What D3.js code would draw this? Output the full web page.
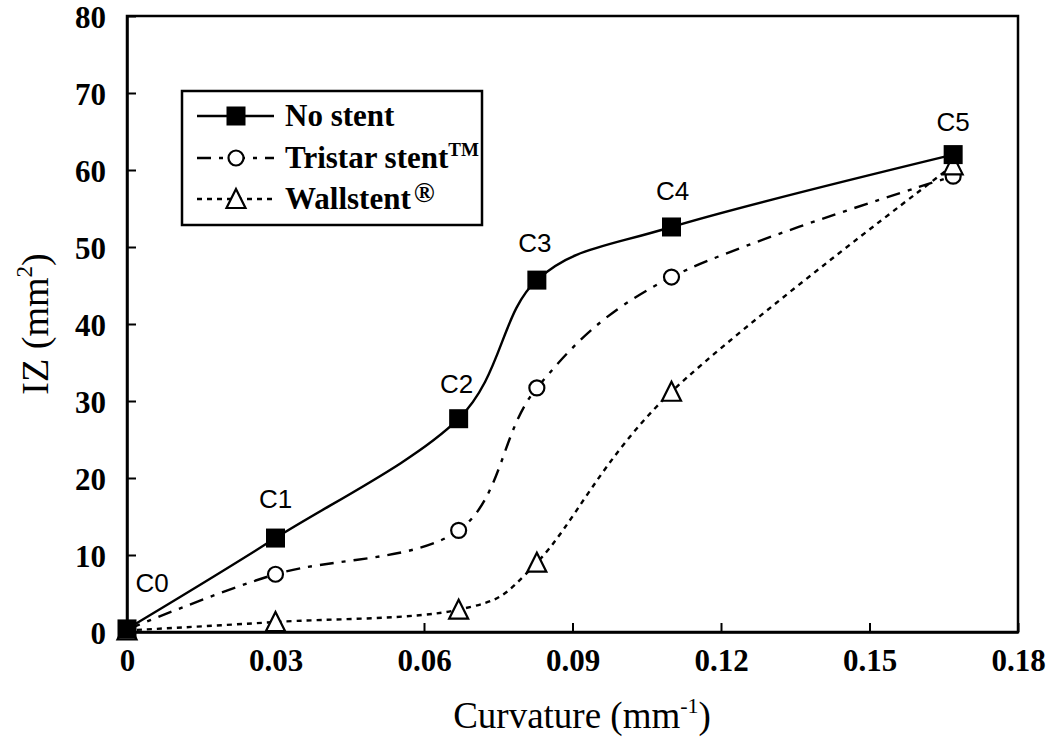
<!DOCTYPE html>
<html><head><meta charset="utf-8">
<script src="https://cdn.jsdelivr.net/npm/d3@7/dist/d3.min.js"></script>
<style>body{margin:0;background:#fff}</style>
</head><body><svg id="c" width="1050" height="753"></svg>
<script>
const curvature = [0, 0.03, 0.067, 0.0828, 0.11, 0.1669];
const pointLabels = ["C0","C1","C2","C3","C4","C5"];
const noStent = [0.4, 12.2, 27.7, 45.7, 52.6, 62.0];
const tristar = [0.3, 7.5, 13.2, 31.7, 46.1, 59.2];
const wallstent = [0.2, 1.3, 2.9, 9.0, 31.2, 60.6];
const xTicks = [0, 0.03, 0.06, 0.09, 0.12, 0.15, 0.18];
const xTickLabels = ["0","0.03","0.06","0.09","0.12","0.15","0.18"];
const yTicks = [0,10,20,30,40,50,60,70,80];
const seriesNames = ["No stent","Tristar stent","Wallstent"];

const svg = d3.select("#c");
const L=127, R=1018, T=16, B=632;
const x = d3.scaleLinear().domain([0,0.18]).range([L,R]);
const y = d3.scaleLinear().domain([0,80]).range([B,T]);

svg.append("rect").attr("x",L).attr("y",T).attr("width",R-L).attr("height",B-T)
  .attr("fill","none").attr("stroke","#000").attr("stroke-width",2.5);

const xAxis = svg.append("g").attr("transform",`translate(0,${B})`)
  .call(d3.axisBottom(x).tickValues(xTicks).tickFormat((d,i)=>xTickLabels[i]).tickSizeInner(-9).tickSizeOuter(0).tickPadding(17));
const yAxis = svg.append("g").attr("transform",`translate(${L},0)`)
  .call(d3.axisLeft(y).tickValues(yTicks).tickSizeInner(-9).tickSizeOuter(0).tickPadding(21));
[xAxis,yAxis].forEach(g=>{
  g.select(".domain").attr("stroke","#000").attr("stroke-width",2.5);
  g.selectAll(".tick line").attr("stroke","#000").attr("stroke-width",2);
  g.selectAll(".tick text").attr("font-family","Liberation Serif").attr("font-weight","bold")
    .attr("font-size",31).attr("fill","#000");
});
xAxis.selectAll(".tick text").attr("dy","0.72em");
yAxis.selectAll(".tick text").attr("dy","0.38em");

const xt = svg.append("text").attr("x",582).attr("y",728).attr("text-anchor","middle")
  .attr("font-family","Liberation Serif").attr("font-size",37).attr("fill","#000");
xt.append("tspan").text("Curvature (mm");
xt.append("tspan").text("-1").attr("font-size",22).attr("dy",-15);
xt.append("tspan").text(")").attr("dy",15);

const yt = svg.append("text").attr("transform","translate(48,324) rotate(-90)").attr("text-anchor","middle")
  .attr("font-family","Liberation Serif").attr("font-size",38).attr("fill","#000");
yt.append("tspan").text("IZ (mm");
yt.append("tspan").text("2").attr("font-size",23).attr("dy",-16);
yt.append("tspan").text(")").attr("dy",16);

const line = d3.line().x(d=>x(d[0])).y(d=>y(d[1])).curve(d3.curveCatmullRom.alpha(0));
const series = [
  {vals:noStent, dash:null, marker:"square"},
  {vals:tristar, dash:"14,8,4,8", marker:"circle"},
  {vals:wallstent, dash:"5,5", marker:"triangle"}
];
function drawMarker(g, type, cx, cy){
  if(type==="square") g.append("rect").attr("x",cx-9.5).attr("y",cy-9.5).attr("width",19).attr("height",19).attr("fill","#000");
  else if(type==="circle") g.append("circle").attr("cx",cx).attr("cy",cy).attr("r",7.5).attr("fill","#fff").attr("stroke","#000").attr("stroke-width",2.2);
  else g.append("path").attr("d",`M${cx},${cy-10}L${cx+9.5},${cy+9}L${cx-9.5},${cy+9}Z`).attr("fill","#fff").attr("stroke","#000").attr("stroke-width",2.2);
}
series.forEach(s=>{
  const pts = curvature.map((c,i)=>[c,s.vals[i]]);
  svg.append("path").attr("d",line(pts)).attr("fill","none").attr("stroke","#000")
    .attr("stroke-width",2.4).attr("stroke-dasharray",s.dash);
});
[series[1],series[2],series[0]].forEach(s=>{
  const g = svg.append("g");
  curvature.forEach((c,i)=>drawMarker(g,s.marker,x(c),y(s.vals[i])));
});

const labelOffsets = [[25,-37],[0,-30],[-2,-26],[-2,-28],[1,-27],[0,-24]];
pointLabels.forEach((t,i)=>{
  svg.append("text").attr("x",x(curvature[i])+labelOffsets[i][0]).attr("y",y(noStent[i])+labelOffsets[i][1])
    .attr("text-anchor","middle").attr("font-family","Liberation Sans").attr("font-size",26).attr("fill","#000").text(t);
});

const lg = svg.append("g");
lg.append("rect").attr("x",182).attr("y",91).attr("width",300).attr("height",134)
  .attr("fill","#fff").attr("stroke","#000").attr("stroke-width",2.5);
const rowY = [116,158,199];
series.forEach((s,i)=>{
  lg.append("line").attr("x1",197).attr("x2",274).attr("y1",rowY[i]).attr("y2",rowY[i])
    .attr("stroke","#000").attr("stroke-width",2.4).attr("stroke-dasharray",s.dash);
  drawMarker(lg,s.marker,236,rowY[i]);
  const t = lg.append("text").attr("x",285).attr("y",rowY[i]+10).attr("font-family","Liberation Serif")
    .attr("font-weight","bold").attr("font-size",31).attr("fill","#000");
  t.append("tspan").text(seriesNames[i]);
  if(i===1) t.append("tspan").text("TM").attr("font-size",19).attr("dy",-12);
  if(i===2) t.append("tspan").text("®").attr("font-size",28).attr("dy",-7).attr("dx",3);
});
</script></body></html>
